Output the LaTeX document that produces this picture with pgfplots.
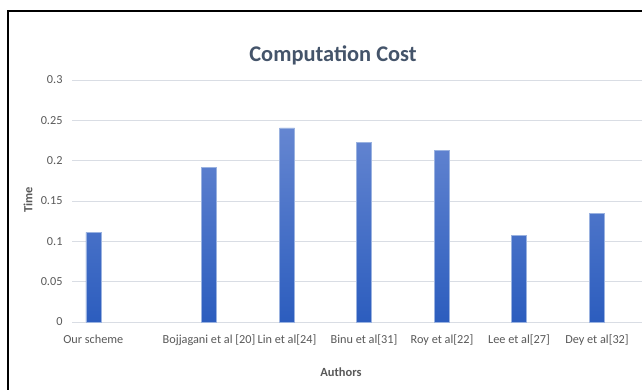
\documentclass[border=0pt]{standalone}
\usepackage{pgfplots}
\pgfplotsset{compat=1.18}
\usepackage{fontspec}
\setmainfont{Carlito}
\definecolor{tickgray}{HTML}{595959}
\definecolor{titlecol}{HTML}{44546A}
\definecolor{gridcol}{HTML}{D9DDE4}
\definecolor{bartop}{HTML}{6586D1}
\definecolor{barbot}{HTML}{2C5DBE}
\definecolor{baredge}{HTML}{9AB2E0}
\begin{document}
\begin{tikzpicture}[x=1bp,y=1bp]
\useasboundingbox (0,0) rectangle (642,389);
\fill[white] (0,0) rectangle (642,389);
\draw[line width=2.6bp,black] (8,-2) -- (8,378) -- (644,378);
\begin{axis}[
  at={(72bp,67bp)}, anchor=south west,
  scale only axis, width=570bp, height=242bp,
  xmin=72, xmax=642, ymin=0, ymax=0.3,
  axis line style={draw=none},
  major tick length=0pt,
  ytick={0,0.05,0.1,0.15,0.2,0.25,0.3},
  yticklabels={0,0.05,0.1,0.15,0.2,0.25,0.3},
  xtick={93.3,209,287,364,442,519,597},
  xticklabels={Our scheme,Bojjagani et al [20],Lin et al[24],Binu et al[31],Roy et al[22],Lee et al[27],Dey et al[32]},
  ymajorgrids, grid style={draw=gridcol, line width=0.9bp},
  /pgf/number format/assume math mode=true,
  tick label style={font=\fontsize{12.3}{14}\selectfont, text=tickgray},
  yticklabel style={xshift=-6bp},
  xticklabel style={yshift=-9bp},
  clip=false,
]
\addplot[ybar, bar width=15, draw=baredge, line width=0.5bp, top color=bartop, bottom color=barbot]
  coordinates {(93.3,0.111) (209,0.1915) (287,0.2405) (364,0.223) (442,0.2125) (519,0.107) (597,0.135)};
\end{axis}
\node[font=\fontsize{22.5}{26}\selectfont\bfseries, text=titlecol] at (333,334) {Computation Cost};
\node[font=\fontsize{12.5}{14}\selectfont\bfseries, text=tickgray, rotate=90] at (28,189) {Time};
\node[font=\fontsize{12.5}{14}\selectfont\bfseries, text=tickgray] at (341,17) {Authors};
\end{tikzpicture}
\end{document}
